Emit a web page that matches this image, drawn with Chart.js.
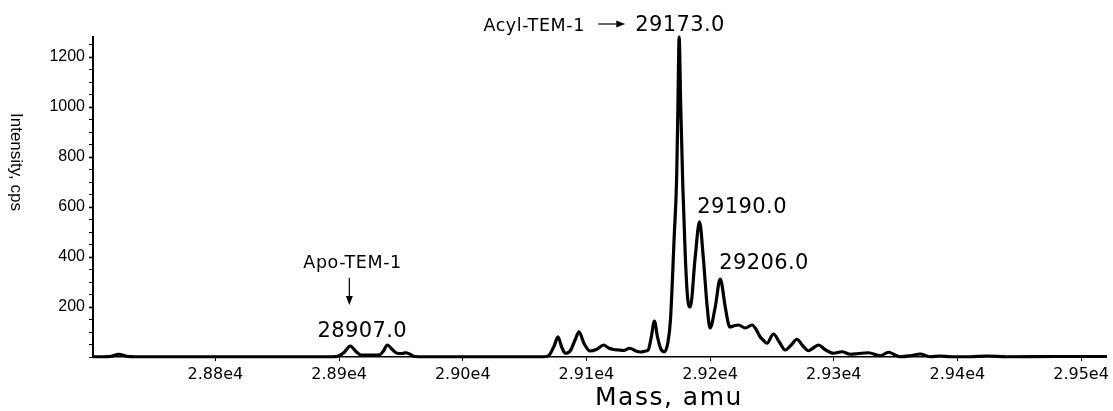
<!DOCTYPE html>
<html>
<head>
<meta charset="utf-8">
<script src="https://cdn.jsdelivr.net/npm/chart.js@4.4.1/dist/chart.umd.min.js"></script>
<style>
  html, body { margin: 0; padding: 0; background: #fff; }
  #wrap { width: 1113px; height: 411px; }
</style>
</head>
<body>
<div id="wrap"><canvas id="massChart" width="1113" height="411"></canvas></div>
<script>
// Reconstructed spectrum (mass in amu, intensity in cps)
const massValues = [
  28701, 28710, 28716, 28722, 28728, 28735, 28780, 28850, 28895, 28899,
  28904, 28909, 28914, 28918, 28926, 28933, 28936, 28939, 28943, 28947,
  28951, 28954, 28957, 28961, 28970, 29000, 29040, 29066, 29070, 29074,
  29077, 29080, 29083, 29087, 29091, 29094, 29098, 29103, 29108, 29114,
  29118, 29122, 29126, 29130, 29135, 29140, 29144, 29148, 29150, 29152.5,
  29155, 29157.5, 29160, 29163, 29166, 29168, 29171, 29173, 29174, 29175,
  29176.3, 29178, 29180, 29182, 29184, 29188, 29191.5, 29194.5, 29197.7, 29200,
  29204.2, 29208.2, 29212.3, 29214.7, 29216, 29220, 29223, 29228.5, 29234, 29237,
  29240.6, 29243.3, 29246, 29251.3, 29256, 29260.8, 29266, 29270.2, 29275, 29279.6,
  29284, 29287.7, 29293, 29299.8, 29306.6, 29313.3, 29320, 29328.1, 29337.6, 29344.3,
  29350, 29353.8, 29362, 29370, 29378, 29386, 29395, 29410, 29424, 29440,
  29480, 29521
];
const intensityValues = [
  1, 1, 3, 11, 3, 1, 1, 1, 1, 3,
  18, 44, 20, 8, 8, 9, 25, 48, 30, 15,
  14, 17, 12, 2, 1, 1, 1, 1, 8, 45,
  81, 40, 15, 25, 70, 101, 55, 24, 30, 48,
  36, 30, 28, 26, 35, 24, 20, 24, 28, 80,
  144, 80, 35, 21, 60, 150, 480, 720, 1000, 1280,
  1000, 680, 400, 230, 200, 400, 541, 400, 200, 116,
  200, 312, 200, 136, 120, 126, 128, 116, 128, 112,
  80, 66, 55, 92, 60, 28, 50, 71, 45, 25,
  38, 48, 30, 15, 21, 11, 14, 17, 5, 19,
  7, 1, 5, 12, 1, 4, 1, 1, 4, 1,
  2, 2
];

// Axis ticks
const xTickValues = [28800, 28900, 29000, 29100, 29200, 29300, 29400, 29500];
const xTickLabels = ['2.88e4', '2.89e4', '2.90e4', '2.91e4', '2.92e4', '2.93e4', '2.94e4', '2.95e4'];
const yTickLabels = [200, 400, 600, 800, 1000, 1200];

// Peak annotations: [text, mass, intensity] (left edge / baseline of text)
const peakLabels = [
  ['29173.0', 29139.5, 1304],
  ['29190.0', 29189.7, 576],
  ['29206.0', 29207.4, 352],
  ['28907.0', 28882.5, 80]
];
const speciesLabels = [
  ['Acyl-TEM-1', 29016.7, 1304],
  ['Apo-TEM-1', 28871.1, 356]
];

const points = massValues.map((m, i) => ({ x: m, y: intensityValues[i] }));

function drawArrow(ctx, x1, y1, x2, y2) {
  const ang = Math.atan2(y2 - y1, x2 - x1);
  const len = 9, half = 3.5;
  ctx.beginPath();
  ctx.moveTo(x1, y1);
  ctx.lineTo(x2 - Math.cos(ang) * len, y2 - Math.sin(ang) * len);
  ctx.stroke();
  ctx.beginPath();
  ctx.moveTo(x2, y2);
  ctx.lineTo(x2 - Math.cos(ang) * len - Math.sin(ang) * half, y2 - Math.sin(ang) * len + Math.cos(ang) * half);
  ctx.lineTo(x2 - Math.cos(ang) * len + Math.sin(ang) * half, y2 - Math.sin(ang) * len - Math.cos(ang) * half);
  ctx.closePath();
  ctx.fill();
}

const annotationPlugin = {
  id: 'annotations',
  afterDatasetsDraw(chart) {
    const { ctx, scales: { x, y } } = chart;
    ctx.save();
    ctx.fillStyle = '#000';
    ctx.strokeStyle = '#000';
    ctx.lineWidth = 1.2;
    ctx.textAlign = 'left';
    ctx.textBaseline = 'alphabetic';

    ctx.font = '21px "DejaVu Sans"';
    ctx.letterSpacing = '0.4px';
    peakLabels.forEach(([t, m, v]) => ctx.fillText(t, x.getPixelForValue(m), y.getPixelForValue(v)));

    ctx.font = '17.5px "DejaVu Sans"';
    ctx.letterSpacing = '0.6px';
    speciesLabels.forEach(([t, m, v]) => ctx.fillText(t, x.getPixelForValue(m), y.getPixelForValue(v)));
    ctx.letterSpacing = '0px';

    // Acyl arrow (horizontal) and Apo arrow (down)
    drawArrow(ctx, x.getPixelForValue(29109.6), y.getPixelForValue(1332),
                   x.getPixelForValue(29131.4), y.getPixelForValue(1332));
    drawArrow(ctx, x.getPixelForValue(28908.3), y.getPixelForValue(316),
                   x.getPixelForValue(28908.3), y.getPixelForValue(208));

    // Axis titles
    ctx.font = '25px "DejaVu Sans"';
    ctx.letterSpacing = '1.5px';
    ctx.fillText('Mass, amu', 595, 405);
    ctx.letterSpacing = '0px';

    ctx.translate(11, 113);
    ctx.rotate(Math.PI / 2);
    ctx.font = '17px "Liberation Sans"';
    ctx.fillText('Intensity, cps', 0, 0);
    ctx.restore();
  }
};

const ctx = document.getElementById('massChart').getContext('2d');
new Chart(ctx, {
  type: 'line',
  data: {
    datasets: [{
      data: points,
      borderColor: '#000',
      borderWidth: 3.2,
      pointRadius: 0,
      fill: false,
      cubicInterpolationMode: 'monotone',
      clip: false
    }]
  },
  options: {
    responsive: false,
    animation: false,
    devicePixelRatio: 1,
    layout: { padding: { top: 37, right: 6, bottom: 0, left: 0 } },
    plugins: {
      legend: { display: false },
      tooltip: { enabled: false }
    },
    scales: {
      x: {
        type: 'linear',
        min: 28701,
        max: 29521,
        afterBuildTicks: scale => { scale.ticks = xTickValues.map(v => ({ value: v })); },
        afterFit: scale => { scale.height = 54; },
        border: { display: true, color: '#000', width: 1.5 },
        grid: { drawOnChartArea: false, drawTicks: true, tickLength: 4, tickColor: '#000' },
        ticks: {
          autoSkip: false,
          maxRotation: 0,
          padding: 4,
          color: '#000',
          font: { family: 'DejaVu Sans', size: 16 },
          callback: value => {
            const i = xTickValues.indexOf(value);
            return i >= 0 ? xTickLabels[i] : '';
          }
        }
      },
      y: {
        min: 0,
        max: 1280,
        afterBuildTicks: scale => {
          const t = [];
          for (let v = 0; v <= 1250; v += 50) t.push({ value: v });
          scale.ticks = t;
        },
        afterFit: scale => { scale.width = 93; },
        border: { display: true, color: '#000', width: 2 },
        grid: {
          drawOnChartArea: false,
          drawTicks: true,
          tickLength: 4,
          tickColor: '#000',
          tickWidth: c => (yTickLabels.includes(c.tick && c.tick.value) ? 1.6 : 1)
        },
        ticks: {
          autoSkip: false,
          padding: 4,
          color: '#000',
          font: { family: 'Liberation Sans', size: 16 },
          callback: value => (yTickLabels.includes(value) ? String(value) : '')
        }
      }
    }
  },
  plugins: [annotationPlugin]
});
</script>
</body>
</html>
